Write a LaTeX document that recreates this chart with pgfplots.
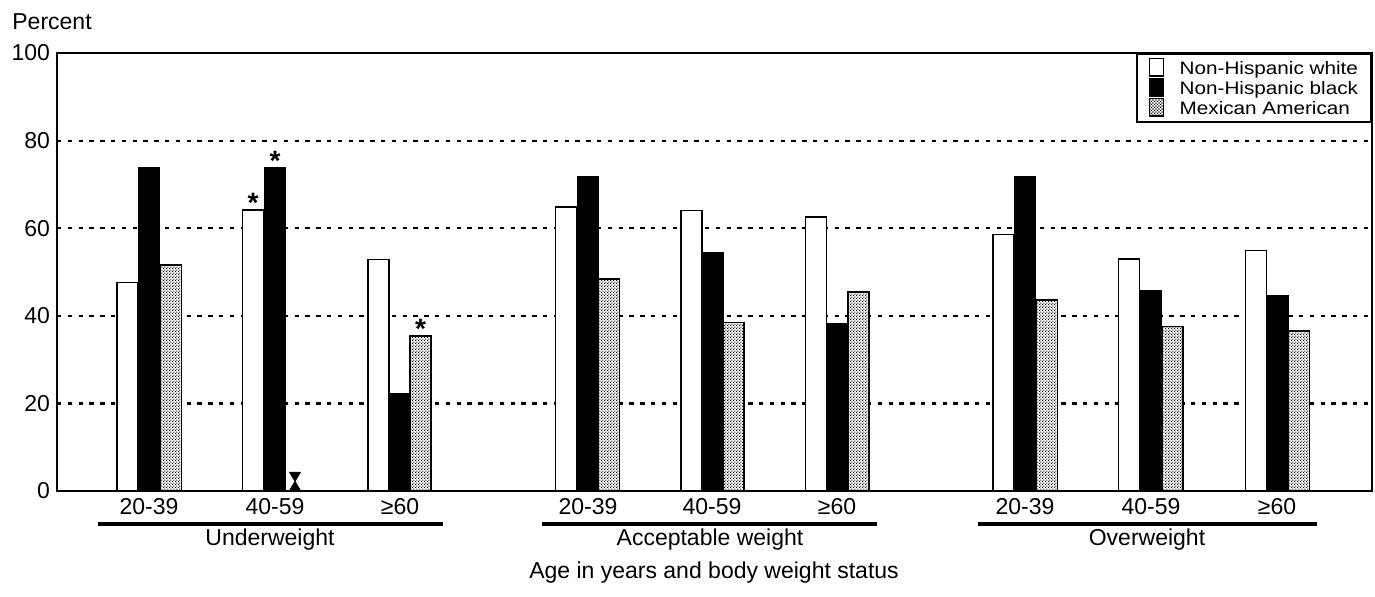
\documentclass[border=0pt]{standalone}
\usepackage{pgfplots}
\pgfplotsset{compat=1.18}
\usepackage{fontspec}
\setmainfont{Liberation Sans}
\newfontfamily\legendfont[FakeStretch=1.15]{Liberation Sans}
\usetikzlibrary{patterns}
\pgfdeclarepatternformonly{finedots}{\pgfqpoint{0pt}{0pt}}{\pgfqpoint{1.6pt}{1.6pt}}{\pgfqpoint{1.6pt}{1.6pt}}{%
  \pgfpathrectangle{\pgfqpoint{0pt}{0pt}}{\pgfqpoint{0.7pt}{0.7pt}}%
  \pgfpathrectangle{\pgfqpoint{0.8pt}{0.8pt}}{\pgfqpoint{0.7pt}{0.7pt}}%
  \pgfusepath{fill}}
\pgfdeclareplotmark{hourglass}{%
  \pgfpathmoveto{\pgfpoint{-0.6\pgfplotmarksize}{\pgfplotmarksize}}%
  \pgfpathlineto{\pgfpoint{0.6\pgfplotmarksize}{\pgfplotmarksize}}%
  \pgfpathlineto{\pgfpoint{-0.6\pgfplotmarksize}{-\pgfplotmarksize}}%
  \pgfpathlineto{\pgfpoint{0.6\pgfplotmarksize}{-\pgfplotmarksize}}%
  \pgfpathclose
  \pgfusepathqfillstroke}
\newcommand{\bigfont}{\fontsize{11.5}{13}\selectfont}
\begin{document}
\begin{tikzpicture}
\useasboundingbox (-28.5pt,-52.5pt) rectangle (659pt,245.5pt);
\begin{axis}[
  scale only axis, width=657.5pt, height=219pt,
  xmin=57, xmax=1372, ymin=0, ymax=100,
  axis line style={line width=0.9pt},
  ytick={0,20,40,60,80,100},
  ymajorgrids, grid style={black, line width=1.1pt, dash pattern=on 2.2pt off 3.2pt},
  xtick={149,275,400,588,712,837,1025,1151,1277},
  xticklabels={20-39,40-59,≥60,20-39,40-59,≥60,20-39,40-59,≥60},
  major tick length=0pt,
  tick label style={font=\bigfont},
  /pgf/number format/assume math mode=true,
  legend style={at={(1,1)}, anchor=north east, draw=black, line width=0.8pt,
    font=\legendfont\fontsize{9}{9}\selectfont, legend cell align=left,
    row sep=0pt, inner xsep=6pt, inner ysep=2pt,
    nodes={inner ysep=0pt, inner xsep=0.6pt},
    /tikz/every odd column/.append style={column sep=7pt}},
  legend image code/.code={\draw[#1] (0pt,-3pt) rectangle (7pt,5.6pt);},
  clip=false,
]
\addplot[ybar, bar width=21, bar shift=0pt, fill=white, draw=black, line width=0.8pt]
  coordinates {(127.5,47.6) (253,64.2) (378.5,52.9) (566,64.9) (691.5,64.0) (816,62.5) (1003.5,58.6) (1129,53.0) (1256,54.9)};
\addlegendentry{Non-Hispanic white}
\addplot[ybar, bar width=21, bar shift=0pt, fill=black, draw=black, line width=0.8pt]
  coordinates {(149,73.9) (275,73.9) (399.5,22.3) (588,71.8) (712.5,54.3) (837,38.1) (1025,71.8) (1151,45.7) (1277.5,44.6)};
\addlegendentry{Non-Hispanic black}
\addplot[ybar, bar width=21, bar shift=0pt, fill=white, draw=black, line width=0.8pt, postaction={pattern=finedots}]
  coordinates {(171,51.6) (420.5,35.4) (609,48.4) (733.5,38.5) (858.5,45.4) (1047,43.6) (1172.5,37.6) (1299,36.6)};
\addlegendentry{Mexican American}
\addplot[only marks, mark=hourglass, mark size=4.5pt, black, forget plot] coordinates {(295,2.2)};
% significance stars
\node[anchor=base, font=\bfseries\fontsize{14}{14}\selectfont, inner sep=0pt, yshift=-1.5pt] at (axis cs:253,64.2) {*};
\node[anchor=base, font=\bfseries\fontsize{14}{14}\selectfont, inner sep=0pt, yshift=-1.5pt] at (axis cs:275,73.9) {*};
\node[anchor=base, font=\bfseries\fontsize{14}{14}\selectfont, inner sep=0pt, yshift=-1.5pt] at (axis cs:420.5,35.4) {*};
% y label
\node[anchor=base west, font=\bigfont, inner sep=0pt] at ([xshift=-22.5pt,yshift=12pt]rel axis cs:0,1) {Percent};
% group underlines and labels
\draw[line width=1.6pt] ([yshift=-16.5pt]axis cs:98,0) -- ([yshift=-16.5pt]axis cs:443,0);
\draw[line width=1.6pt] ([yshift=-16.5pt]axis cs:542,0) -- ([yshift=-16.5pt]axis cs:877,0);
\draw[line width=1.6pt] ([yshift=-16.5pt]axis cs:978,0) -- ([yshift=-16.5pt]axis cs:1317,0);
\node[font=\bigfont] at ([yshift=-24.5pt]axis cs:270,0) {Underweight};
\node[font=\bigfont] at ([yshift=-24.5pt]axis cs:710,0) {Acceptable weight};
\node[font=\bigfont] at ([yshift=-41pt]axis cs:714,0) {Age in years and body weight status};
\node[font=\bigfont] at ([yshift=-24.5pt]axis cs:1147,0) {Overweight};
\end{axis}
\end{tikzpicture}
\end{document}
